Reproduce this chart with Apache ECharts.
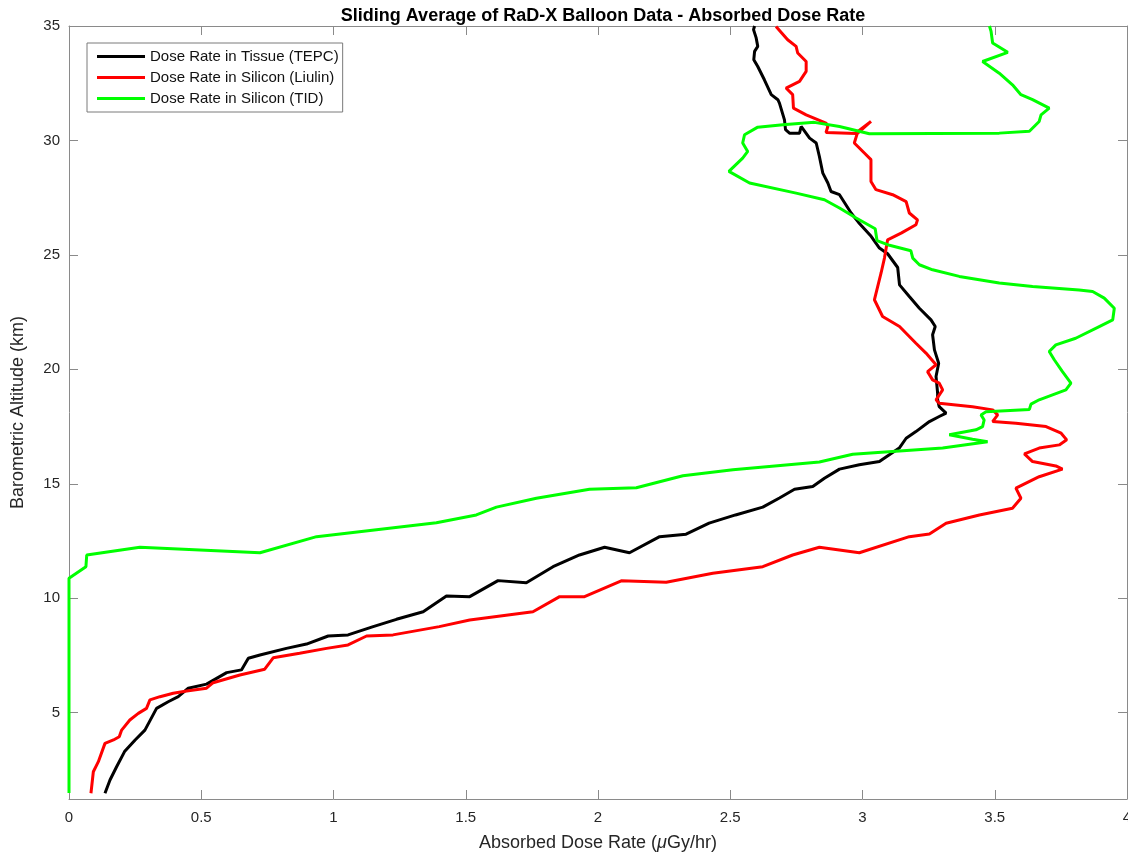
<!DOCTYPE html>
<html>
<head>
<meta charset="utf-8">
<title>Sliding Average of RaD-X Balloon Data - Absorbed Dose Rate</title>
<script src="https://cdn.jsdelivr.net/npm/echarts@6/dist/echarts.min.js"></script>
<style>
  html, body { margin: 0; padding: 0; background: #fff; }
  #chart { width: 1128px; height: 854px; }
</style>
</head>
<body>
<div id="chart"></div>
<script>
// Absorbed dose rate (uGy/hr) versus barometric altitude (km), [dose, altitude]
const tepcTissue = [
  [0.136,1.48],[0.155,2.06],[0.18,2.64],[0.21,3.30],[0.25,3.81],[0.287,4.24],[0.331,5.19],
  [0.375,5.48],[0.413,5.70],[0.451,6.07],[0.52,6.25],[0.558,6.50],[0.596,6.75],[0.652,6.87],
  [0.678,7.38],[0.722,7.52],[0.822,7.81],[0.898,8.00],[0.98,8.35],[1.055,8.40],[1.15,8.76],
  [1.238,9.08],[1.339,9.41],[1.427,10.10],[1.515,10.07],[1.622,10.77],[1.729,10.68],[1.83,11.38],
  [1.93,11.89],[2.025,12.23],[2.119,11.99],[2.233,12.69],[2.333,12.80],[2.42,13.28],[2.52,13.64],
  [2.623,13.98],[2.686,14.38],[2.743,14.76],[2.812,14.88],[2.856,15.24],[2.913,15.64],[2.988,15.83],
  [3.064,15.97],[3.10,16.26],[3.139,16.56],[3.165,16.99],[3.202,17.28],[3.253,17.72],[3.29,17.94],
  [3.316,18.09],[3.29,18.37],[3.284,18.67],[3.284,18.96],[3.278,19.69],[3.288,20.27],[3.272,20.85],
  [3.265,21.51],[3.275,21.87],[3.259,22.16],[3.215,22.67],[3.177,23.18],[3.14,23.69],[3.133,24.45],
  [3.095,25.05],[3.064,25.30],[3.03,25.85],[2.985,26.42],[2.957,26.83],[2.913,27.63],[2.881,27.77],
  [2.869,28.14],[2.85,28.57],[2.837,29.30],[2.825,29.89],[2.80,30.10],[2.768,30.61],[2.762,30.32],
  [2.724,30.32],[2.709,30.47],[2.705,30.90],[2.686,31.63],[2.68,31.78],[2.655,32.0],[2.629,32.65],
  [2.604,33.23],[2.589,33.53],[2.592,33.89],[2.604,34.11],[2.598,34.48],[2.588,34.84],[2.592,35.0]
];

const liulinSilicon = [
  [0.083,1.48],[0.092,2.42],[0.111,2.86],[0.136,3.66],[0.168,3.81],[0.19,3.95],[0.199,4.24],
  [0.23,4.68],[0.262,4.97],[0.293,5.19],[0.306,5.56],[0.344,5.70],[0.394,5.85],[0.445,5.95],
  [0.52,6.07],[0.545,6.31],[0.646,6.65],[0.74,6.90],[0.772,7.40],[0.872,7.60],[0.974,7.81],
  [1.055,7.96],[1.125,8.35],[1.225,8.40],[1.40,8.76],[1.515,9.05],[1.754,9.41],[1.855,10.07],
  [1.949,10.07],[2.088,10.76],[2.258,10.70],[2.434,11.09],[2.623,11.38],[2.736,11.89],[2.837,12.23],
  [2.988,11.99],[3.177,12.69],[3.253,12.81],[3.316,13.28],[3.442,13.64],[3.567,13.93],[3.599,14.37],
  [3.58,14.81],[3.668,15.31],[3.756,15.64],[3.731,15.78],[3.643,15.97],[3.612,16.31],[3.668,16.56],
  [3.744,16.70],[3.772,16.92],[3.751,17.21],[3.694,17.50],[3.58,17.65],[3.492,17.72],[3.511,18.01],
  [3.492,18.23],[3.416,18.37],[3.29,18.52],[3.278,18.67],[3.303,19.10],[3.29,19.40],[3.265,19.54],
  [3.246,19.90],[3.278,20.20],[3.24,20.71],[3.202,21.14],[3.14,21.87],[3.076,22.31],[3.045,23.04],
  [3.07,24.20],[3.083,24.86],[3.095,25.66],[3.146,25.95],[3.202,26.32],[3.208,26.53],[3.177,26.83],
  [3.165,27.33],[3.114,27.63],[3.051,27.85],[3.032,28.21],[3.032,29.16],[3.007,29.45],[2.969,29.89],
  [2.98,30.30],[3.032,30.83],[2.985,30.42],[2.976,30.30],[2.862,30.35],[2.869,30.61],[2.862,30.76],
  [2.787,31.12],[2.739,31.41],[2.736,32.0],[2.711,32.29],[2.762,32.58],[2.787,33.02],[2.787,33.45],
  [2.755,33.82],[2.749,34.11],[2.717,34.40],[2.673,34.98]
];

const tidSilicon = [
  [0,1.49],[0,10.87],[0.064,11.38],[0.067,11.89],[0.268,12.23],[0.722,11.99],[0.936,12.69],
  [1.389,13.30],[1.54,13.64],[1.616,13.98],[1.767,14.37],[1.968,14.76],[2.145,14.83],[2.321,15.35],
  [2.51,15.61],[2.837,15.95],[2.963,16.29],[3.303,16.56],[3.473,16.84],[3.416,16.95],[3.328,17.14],
  [3.322,17.21],[3.429,17.36],[3.454,17.50],[3.46,17.79],[3.448,18.01],[3.467,18.15],[3.631,18.25],
  [3.637,18.48],[3.668,18.67],[3.769,19.10],[3.788,19.40],[3.756,19.90],[3.725,20.42],[3.706,20.78],
  [3.731,21.07],[3.806,21.36],[3.895,21.87],[3.946,22.16],[3.952,22.67],[3.914,23.11],[3.87,23.40],
  [3.819,23.47],[3.643,23.62],[3.517,23.77],[3.366,24.06],[3.265,24.35],[3.215,24.57],[3.19,24.86],
  [3.183,25.18],[3.102,25.42],[3.055,25.62],[3.048,26.14],[2.976,26.61],[2.913,27.05],[2.856,27.41],
  [2.749,27.70],[2.573,28.14],[2.495,28.65],[2.547,29.23],[2.566,29.52],[2.547,29.89],[2.554,30.25],
  [2.604,30.58],[2.699,30.69],[2.818,30.79],[2.913,30.61],[3.026,30.29],[3.517,30.32],[3.631,30.40],
  [3.668,30.83],[3.675,31.12],[3.706,31.41],[3.643,31.78],[3.599,32.0],[3.567,32.43],[3.517,32.94],
  [3.454,33.45],[3.549,33.85],[3.492,34.26],[3.486,34.77],[3.48,35.0]
];

const seriesNames = [
  'Dose Rate in Tissue (TEPC)',
  'Dose Rate in Silicon (Liulin)',
  'Dose Rate in Silicon (TID)'
];
const altitudeTicks = [5, 10, 15, 20, 25, 30, 35];

const FONT = '"Liberation Sans", Arial, Helvetica, sans-serif';
const AXIS_COLOR = '#8a8a8a';
const LABEL_COLOR = '#262626';

const chart = echarts.init(document.getElementById('chart'), null, { renderer: 'canvas' });

const boxAxisX = (pos, showLabels) => ({
  type: 'value', position: pos, min: 0, max: 4, interval: 0.5,
  splitLine: { show: false },
  axisLine: { show: true, onZero: false, lineStyle: { color: AXIS_COLOR, width: 1 } },
  axisTick: { show: true, inside: true, length: 9, lineStyle: { color: AXIS_COLOR } },
  axisLabel: { show: showLabels, color: LABEL_COLOR, fontFamily: FONT, fontSize: 15, margin: 11 }
});
const boxAxisY = (pos, showLabels) => ({
  type: 'value', position: pos, min: 1.23, max: 35,
  splitLine: { show: false },
  axisLine: { show: true, onZero: false, lineStyle: { color: AXIS_COLOR, width: 1 } },
  axisTick: { show: true, inside: true, length: 9, customValues: altitudeTicks, lineStyle: { color: AXIS_COLOR } },
  axisLabel: { show: showLabels, customValues: altitudeTicks, color: LABEL_COLOR, fontFamily: FONT, fontSize: 15, margin: 9 }
});

const xMain = boxAxisX('bottom', true);
xMain.name = '{t|Absorbed Dose Rate (}{m|μ}{t|Gy/hr)}';
xMain.nameLocation = 'middle';
xMain.nameGap = 35;
xMain.nameTextStyle = {
  rich: {
    t: { fontFamily: FONT, fontSize: 18, color: LABEL_COLOR },
    m: { fontFamily: FONT, fontSize: 18, color: LABEL_COLOR, fontStyle: 'italic' }
  }
};

const yMain = boxAxisY('left', true);
yMain.name = 'Barometric Altitude (km)';
yMain.nameLocation = 'middle';
yMain.nameGap = 42;
yMain.nameTextStyle = { fontFamily: FONT, fontSize: 18, color: LABEL_COLOR };

const lineSeries = (name, data, color) => ({
  name, type: 'line', data, xAxisIndex: 0, yAxisIndex: 0,
  showSymbol: false, symbol: 'none', smooth: false, clip: true,
  lineStyle: { color, width: 3 }, itemStyle: { color },
  emphasis: { disabled: true }
});

chart.setOption({
  backgroundColor: '#ffffff',
  animation: false,
  title: {
    text: 'Sliding Average of RaD-X Balloon Data - Absorbed Dose Rate',
    left: 598, textAlign: 'center', top: 2,
    textStyle: { fontFamily: FONT, fontSize: 18, fontWeight: 'bold', color: '#000' }
  },
  grid: { left: 69, right: 1, top: 26, bottom: 55, containLabel: false, outerBoundsMode: 'none' },
  legend: {
    data: seriesNames,
    orient: 'vertical', left: 87, top: 43,
    icon: 'rect', itemWidth: 48, itemHeight: 3, itemGap: 6,
    padding: [6, 4, 6, 10],
    backgroundColor: '#ffffff', borderColor: '#7a7a7a', borderWidth: 1,
    textStyle: { fontFamily: FONT, fontSize: 15, color: '#111' },
    selectedMode: false
  },
  xAxis: [xMain, boxAxisX('top', false)],
  yAxis: [yMain, boxAxisY('right', false)],
  series: [
    lineSeries(seriesNames[0], tepcTissue, '#000000'),
    lineSeries(seriesNames[1], liulinSilicon, '#ff0000'),
    lineSeries(seriesNames[2], tidSilicon, '#00ff00')
  ]
});
</script>
</body>
</html>
